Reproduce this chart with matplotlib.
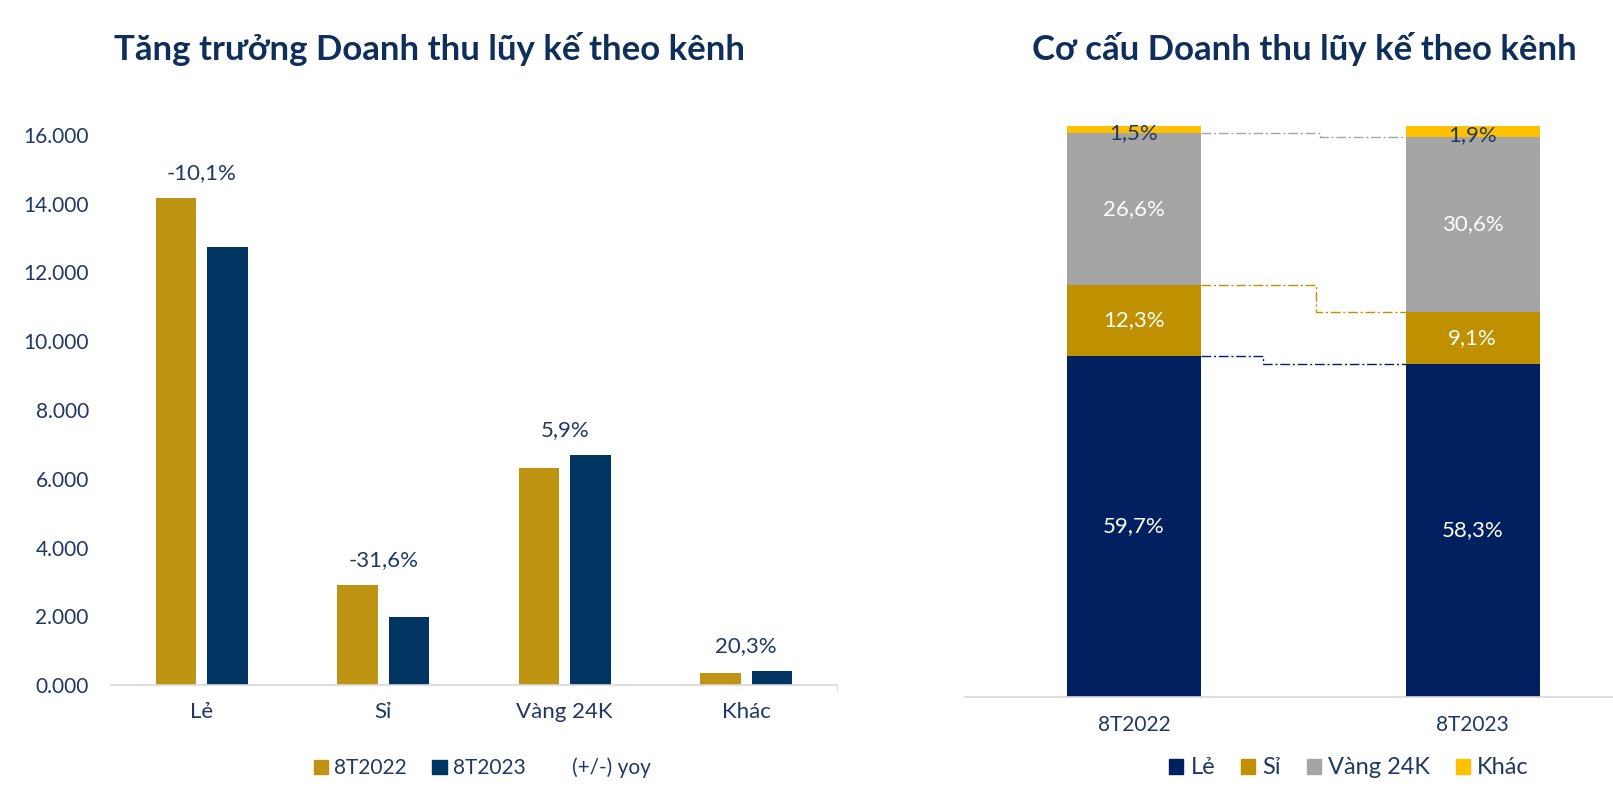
import matplotlib.pyplot as plt
import numpy as np
from matplotlib.patches import Patch

plt.rcParams['font.family'] = ['Lato', 'DejaVu Sans']

# left chart data
kenh = ['Lẻ', 'Sỉ', 'Vàng 24K', 'Khác']
dt_2022 = [14170, 2900, 6310, 335]
dt_2023 = [12740, 1985, 6680, 405]
yoy = ['-10,1%', '-31,6%', '5,9%', '20,3%']
y_ticks = [0, 2000, 4000, 6000, 8000, 10000, 12000, 14000, 16000]
y_tick_labels = ['0.000', '2.000', '4.000', '6.000', '8.000', '10.000', '12.000', '14.000', '16.000']

# right chart data
ky = ['8T2022', '8T2023']
co_cau = {
    'Lẻ': [59.7, 58.3],
    'Sỉ': [12.3, 9.1],
    'Vàng 24K': [26.6, 30.6],
    'Khác': [1.5, 1.9],
}
co_cau_labels = {
    'Lẻ': ['59,7%', '58,3%'],
    'Sỉ': ['12,3%', '9,1%'],
    'Vàng 24K': ['26,6%', '30,6%'],
    'Khác': ['1,5%', '1,9%'],
}

navy_text = '#1F3864'
gold = '#BF9412'
navy = '#003462'
stack_colors = {'Lẻ': '#002060', 'Sỉ': '#BF9000', 'Vàng 24K': '#A5A5A5', 'Khác': '#FFC000'}
label_colors = {'Lẻ': 'white', 'Sỉ': 'white', 'Vàng 24K': 'white', 'Khác': navy_text}

W, H = 1613, 806
fig = plt.figure(figsize=(W / 100, H / 100), dpi=100)

# ---- left: growth by channel
ax1 = fig.add_axes([111 / W, 1 - 685 / H, (837 - 111) / W, (685 - 135) / H])
x = np.arange(len(kenh))
bw = 0.225
gap = 0.058
ax1.bar(x - (bw + gap) / 2, dt_2022, bw, color=gold)
ax1.bar(x + (bw + gap) / 2, dt_2023, bw, color=navy)
for i, lbl in enumerate(yoy):
    top = max(dt_2022[i], dt_2023[i])
    ax1.annotate(lbl, (x[i], top), xytext=(0, 11), textcoords='offset points',
                 ha='center', va='bottom', fontsize=16, color=navy_text)
ax1.set_xlim(-0.5, len(kenh) - 0.5)
ax1.set_ylim(0, 16000)
ax1.set_yticks(y_ticks)
ax1.set_yticklabels(y_tick_labels)
ax1.set_xticks(x)
ax1.set_xticklabels(kenh)
ax1.tick_params(axis='y', length=0, pad=16, labelsize=15, labelcolor=navy_text)
ax1.tick_params(axis='x', length=0, pad=12, labelsize=16, labelcolor=navy_text)
ax1.set_xticks([len(kenh) - 0.5], minor=True)
ax1.tick_params(axis='x', which='minor', length=5, color='#D9D9D9')
for s in ['top', 'right', 'left']:
    ax1.spines[s].set_visible(False)
ax1.spines['bottom'].set_color('#D9D9D9')
ax1.spines['bottom'].set_linewidth(1.2)

# ---- right: structure by channel
ax2 = fig.add_axes([965 / W, 1 - 696.5 / H, (W - 965) / W, (696.5 - 125.5) / H])
px = 338.5
xs = np.arange(len(ky))
bw2 = 134 / px
bottom = np.zeros(len(ky))
tops = {}
for name, vals in co_cau.items():
    vals = np.array(vals)
    ax2.bar(xs, vals, bw2, bottom=bottom, color=stack_colors[name])
    for j in range(len(ky)):
        yc = bottom[j] + vals[j] / 2
        if name == 'Khác':
            yc -= 0.6
        ax2.text(xs[j], yc, co_cau_labels[name][j], ha='center', va='center',
                 fontsize=16, color=label_colors[name])
    bottom = bottom + vals
    tops[name] = bottom.copy()

# step connectors between bars
steps = {'Lẻ': (0.381, '#002060'), 'Sỉ': (0.538, '#BF9000'), 'Vàng 24K': (0.549, '#A5A5A5')}
for name, (sx, c) in steps.items():
    y0, y1 = tops[name]
    ax2.plot([bw2 / 2, sx, sx, 1 - bw2 / 2], [y0, y0, y1, y1], color=c, lw=1,
             linestyle=(0, (7, 2, 1.5, 2)))

ax2.set_xlim(-(1134 - 965) / px, 1 + (W - 1472.5) / px)
ax2.set_ylim(0, 100)
ax2.set_yticks([])
ax2.set_xticks(xs)
ax2.set_xticklabels(ky)
ax2.tick_params(axis='x', length=0, pad=13, labelsize=15, labelcolor=navy_text)
for s in ['top', 'right', 'left']:
    ax2.spines[s].set_visible(False)
ax2.spines['bottom'].set_color('#D9D9D9')
ax2.spines['bottom'].set_linewidth(1.2)

# titles
fig.text(430 / W, 1 - 49 / H, 'Tăng trưởng Doanh thu lũy kế theo kênh', ha='center', va='center',
         fontsize=25, fontweight='bold', color='#0E2F5A')
fig.text(1304 / W, 1 - 49 / H, 'Cơ cấu Doanh thu lũy kế theo kênh', ha='center', va='center',
         fontsize=25, fontweight='bold', color='#0E2F5A')

# legends
h1 = [Patch(color=gold, label='8T2022'), Patch(color=navy, label='8T2023'),
      Patch(color='none', label='(+/-) yoy')]
fig.legend(handles=h1, loc='center', bbox_to_anchor=(482 / W, 1 - 768 / H), ncol=3,
           frameon=False, fontsize=15, handlelength=0.7, handleheight=0.7,
           handletextpad=0.3, columnspacing=1.2, labelcolor=navy_text)
h2 = [Patch(color=stack_colors[n], label=n) for n in co_cau]
fig.legend(handles=h2, loc='center', bbox_to_anchor=(1349 / W, 1 - 768 / H), ncol=4,
           frameon=False, fontsize=17, handlelength=0.6, handleheight=0.6,
           handletextpad=0.3, columnspacing=1.1, labelcolor=navy_text)

fig.savefig('out.png', dpi=100)
